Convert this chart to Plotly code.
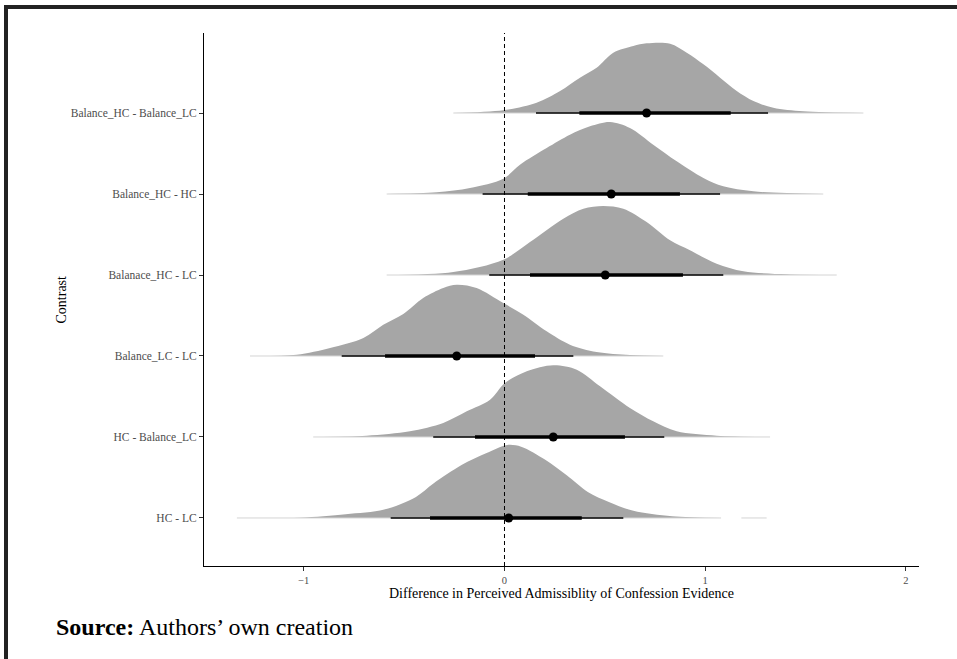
import plotly.graph_objects as go

# ---------------- data ----------------
contrasts = ["HC - LC", "HC - Balance_LC", "Balance_LC - LC",
             "Balanace_HC - LC", "Balance_HC - HC", "Balance_HC - Balance_LC"]

# density profiles (x value, density height in category units)
dens_x = {
    "Balance_HC - Balance_LC": [-0.255, -0.007, 0.160, 0.277, 0.376, 0.459, 0.542, 0.642, 0.708, 0.825,
                                0.908, 0.991, 1.074, 1.157, 1.240, 1.339, 1.489, 1.788],
    "Balance_HC - HC": [-0.587, -0.338, -0.172, -0.006, 0.077, 0.210, 0.326, 0.426, 0.526, 0.625,
                        0.741, 0.858, 0.991, 1.090, 1.240, 1.588],
    "Balanace_HC - LC": [-0.587, -0.255, -0.006, 0.127, 0.293, 0.393, 0.492, 0.592, 0.708, 0.825,
                         0.924, 1.057, 1.190, 1.406, 1.655],
    "Balance_LC - LC": [-1.268, -1.035, -0.869, -0.703, -0.604, -0.504, -0.405, -0.305, -0.238, -0.139,
                        -0.006, 0.094, 0.210, 0.326, 0.459, 0.625, 0.791],
    "HC - Balance_LC": [-0.953, -0.687, -0.471, -0.305, -0.188, -0.072, 0.002, 0.111, 0.243, 0.360,
                        0.476, 0.625, 0.741, 0.858, 1.057, 1.323],
    "HC - LC": [-1.333, -1.018, -0.791, -0.599, -0.441, -0.354, -0.214, -0.092, 0.013, 0.083,
                0.205, 0.310, 0.415, 0.520, 0.642, 0.835, 1.079],
}
dens_h = {
    "Balance_HC - Balance_LC": [0, 0.033, 0.127, 0.272, 0.436, 0.559, 0.744, 0.827, 0.860, 0.856,
                                0.744, 0.601, 0.436, 0.272, 0.148, 0.065, 0.021, 0],
    "Balance_HC - HC": [0, 0.021, 0.074, 0.189, 0.362, 0.568, 0.732, 0.836, 0.889, 0.815,
                        0.609, 0.404, 0.198, 0.095, 0.033, 0],
    "Balanace_HC - LC": [0, 0.037, 0.189, 0.407, 0.695, 0.819, 0.852, 0.819, 0.654, 0.428,
                         0.305, 0.140, 0.046, 0.009, 0],
    "Balance_LC - LC": [0, 0.016, 0.099, 0.222, 0.386, 0.519, 0.716, 0.840, 0.880, 0.840,
                        0.654, 0.510, 0.305, 0.140, 0.049, 0.012, 0],
    "HC - Balance_LC": [0, 0.016, 0.070, 0.173, 0.317, 0.460, 0.667, 0.811, 0.885, 0.831,
                        0.626, 0.358, 0.194, 0.070, 0.016, 0],
    "HC - LC": [0, 0.004, 0.046, 0.104, 0.260, 0.425, 0.653, 0.798, 0.901, 0.880,
                0.715, 0.528, 0.322, 0.198, 0.088, 0.021, 0],
}
hc_lc_far_tail = [1.18, 1.306]

# point intervals: median, 66% and 95% intervals (same order as contrasts)
median = [0.021, 0.243, -0.238, 0.502, 0.532, 0.708]
q66_lo = [-0.371, -0.147, -0.595, 0.127, 0.116, 0.373]
q66_hi = [0.385, 0.600, 0.152, 0.889, 0.874, 1.127]
q95_lo = [-0.567, -0.355, -0.811, -0.076, -0.109, 0.157]
q95_hi = [0.592, 0.796, 0.343, 1.090, 1.074, 1.313]

x_ticks = [-1, 0, 1, 2]
x_range = [-1.497, 2.065]
y_range = [0.407, 6.988]

FONT = "Liberation Serif"
GRAY = "#a6a6a6"

fig = go.Figure()

# densities (half-eye slabs)
for i, c in enumerate(contrasts):
    base = i + 1
    xs = dens_x[c]
    hs = dens_h[c]
    # baseline (also acts as faint tail line)
    fig.add_trace(go.Scatter(x=[xs[0], xs[-1]], y=[base, base], mode="lines",
                             line=dict(color="#d4d4d4", width=1), hoverinfo="skip", showlegend=False))
    fig.add_trace(go.Scatter(x=xs, y=[base + h for h in hs], mode="lines", fill="tonexty",
                             fillcolor=GRAY, line=dict(width=0, color=GRAY, shape="spline", smoothing=0.9),
                             hoverinfo="skip", showlegend=False))
fig.add_trace(go.Scatter(x=hc_lc_far_tail, y=[1, 1], mode="lines",
                         line=dict(color="#d4d4d4", width=1), hoverinfo="skip", showlegend=False))

# zero reference line
fig.add_trace(go.Scatter(x=[0, 0], y=y_range, mode="lines",
                         line=dict(color="black", width=1, dash="4px,3px"),
                         hoverinfo="skip", showlegend=False))

# intervals
for i, c in enumerate(contrasts):
    base = i + 1
    fig.add_trace(go.Scatter(x=[q95_lo[i], q95_hi[i]], y=[base, base], mode="lines",
                             line=dict(color="black", width=1.4), hoverinfo="skip", showlegend=False))
    fig.add_trace(go.Scatter(x=[q66_lo[i], q66_hi[i]], y=[base, base], mode="lines",
                             line=dict(color="black", width=3.6), hoverinfo="skip", showlegend=False))
    fig.add_trace(go.Scatter(x=[median[i]], y=[base], mode="markers",
                             marker=dict(color="black", size=9), hoverinfo="skip", showlegend=False))

fig.update_layout(
    width=957, height=659,
    margin=dict(l=204, r=38, t=33, b=93),
    paper_bgcolor="white", plot_bgcolor="white",
    font=dict(family=FONT, color="black"),
    showlegend=False,
    xaxis=dict(range=x_range, tickvals=x_ticks, showgrid=False, zeroline=False,
               showline=True, linecolor="black", linewidth=1.2,
               ticks="outside", ticklen=4, tickcolor="#333", tickwidth=1,
               tickfont=dict(family=FONT, size=10.5, color="#4d4d4d")),
    yaxis=dict(range=y_range, tickvals=list(range(1, len(contrasts) + 1)), ticktext=contrasts,
               showgrid=False, zeroline=False,
               showline=True, linecolor="black", linewidth=1.2,
               ticks="outside", ticklen=4, tickcolor="#333", tickwidth=1,
               tickfont=dict(family=FONT, size=11.5, color="#4d4d4d")),
    annotations=[
        dict(text="Difference in Perceived Admissiblity of Confession Evidence",
             xref="paper", yref="paper", x=0.5, y=(566 - 593) / 533,
             xanchor="center", yanchor="middle", showarrow=False,
             font=dict(family=FONT, size=14, color="black")),
        dict(text="Contrast", xref="paper", yref="paper", x=(61 - 204) / 715, y=0.5,
             xanchor="center", yanchor="middle", textangle=-90, showarrow=False,
             font=dict(family=FONT, size=14, color="black")),
        dict(text="<b>Source:</b> Authors\u2019 own creation",
             xref="paper", yref="paper", x=(54 - 204) / 715, y=(566 - 627) / 533,
             xanchor="left", yanchor="middle", showarrow=False,
             font=dict(family=FONT, size=24, color="black")),
    ],
    shapes=[
        dict(type="rect", xref="paper", yref="paper",
             x0=(6 - 204) / 715, x1=(975 - 204) / 715,
             y0=(566 - 690) / 533, y1=(566 - 7) / 533,
             line=dict(color="#222", width=4), fillcolor="rgba(0,0,0,0)", layer="above"),
    ],
)

fig.write_html("out.html")
